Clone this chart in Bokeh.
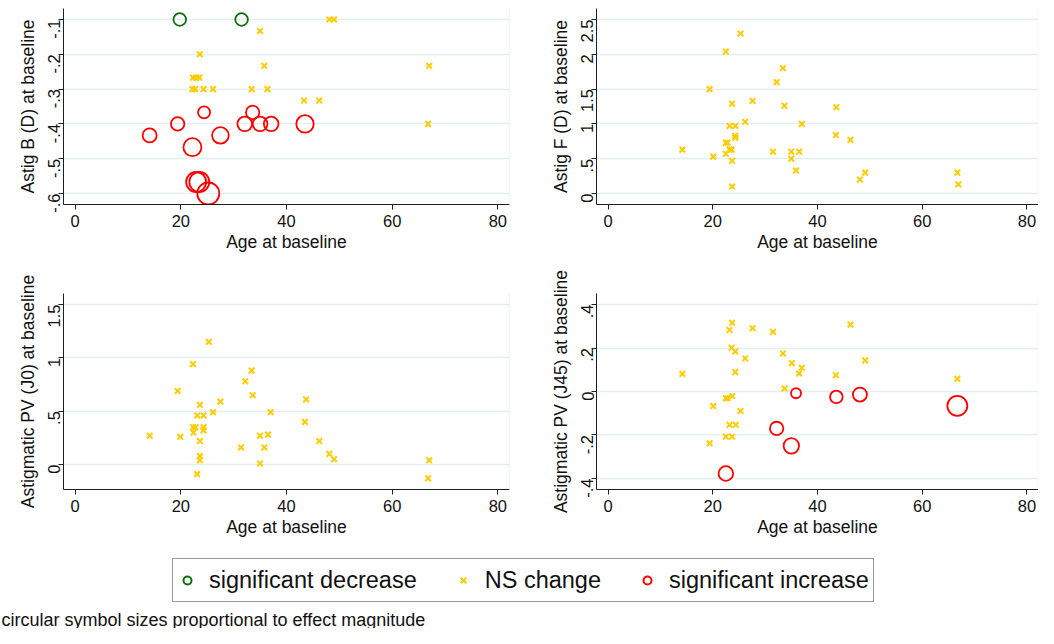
from bokeh.plotting import figure
from bokeh.models import (Range1d, FixedTicker, CustomJSTickFormatter, Span, Legend,
                          LegendItem, ColumnDataSource, Label)
from bokeh.layouts import column, row
from bokeh.embed import file_html
from bokeh.resources import INLINE

FONT = "Liberation Sans"
GOLD = "#ffcc00"
GREEN = "#0b6e0b"
RED = "#ff0000"
GRID = "#e4edf1"
AXIS = "#1e1e1e"

x_ticks = [0, 20, 40, 60, 80]
x_label = "Age at baseline"

# ---- Panel A: Astig B (D) at baseline ----
a_ylabel = "Astig B (D) at baseline"
a_yticks = [-0.6, -0.5, -0.4, -0.3, -0.2, -0.1]
a_age_dec = [19.8, 31.5]
a_val_dec = [-0.1, -0.1]
a_mag_dec = [0.126, 0.126]
a_age_ns = [48.1, 49.0, 35.0, 23.6, 35.8, 67.0, 22.3, 22.9, 23.5, 22.2, 22.7, 24.3,
            26.1, 33.4, 36.4, 43.3, 46.2, 66.8]
a_val_ns = [-0.1, -0.1, -0.133, -0.2, -0.233, -0.233, -0.267, -0.267, -0.267, -0.3,
            -0.3, -0.3, -0.3, -0.3, -0.3, -0.333, -0.333, -0.4]
a_age_inc = [14.1, 19.4, 24.4, 22.2, 27.5, 32.1, 33.6, 35.0, 37.1, 43.5, 22.9, 23.5, 25.2]
a_val_inc = [-0.433, -0.4, -0.367, -0.467, -0.433, -0.4, -0.367, -0.4, -0.4, -0.4,
             -0.567, -0.567, -0.6]
a_mag_inc = [0.14, 0.134, 0.12, 0.18, 0.166, 0.146, 0.134, 0.146, 0.146, 0.174,
             0.20, 0.20, 0.22]

# ---- Panel B: Astig F (D) at baseline ----
b_ylabel = "Astig F (D) at baseline"
b_yticks = [0, 0.5, 1, 1.5, 2, 2.5]
b_age_ns = [14.2, 19.4, 20.1, 22.5, 22.5, 22.8, 22.5, 23.2, 23.2, 23.6, 23.7, 23.7,
            23.7, 24.3, 24.3, 24.3, 25.3, 26.2, 27.6, 31.5, 32.2, 33.4, 33.7, 35.0,
            35.0, 35.9, 36.5, 37.0, 43.5, 43.6, 46.3, 48.1, 49.1, 66.7, 66.9]
b_val_ns = [0.63, 1.50, 0.53, 2.04, 0.73, 0.73, 0.57, 0.97, 0.63, 0.63, 1.29, 0.47,
            0.10, 0.97, 0.83, 0.80, 2.30, 1.03, 1.33, 0.60, 1.60, 1.80, 1.26, 0.60,
            0.50, 0.33, 0.60, 1.00, 0.84, 1.24, 0.77, 0.20, 0.30, 0.30, 0.13]

# ---- Panel C: Astigmatic PV (J0) at baseline ----
c_ylabel = "Astigmatic PV (J0) at baseline"
c_yticks = [0, 0.5, 1, 1.5]
c_age_ns = [14.1, 19.4, 19.9, 22.3, 22.3, 22.8, 22.4, 23.1, 23.1, 23.6, 23.6, 23.6,
            23.6, 24.3, 24.3, 24.3, 25.3, 26.1, 27.5, 31.4, 32.2, 33.4, 33.6, 35.0,
            35.0, 35.8, 36.5, 37.0, 43.5, 43.7, 46.2, 48.1, 49.0, 67.0, 66.8]
c_val_ns = [0.27, 0.69, 0.26, 0.94, 0.35, 0.35, 0.30, 0.46, -0.09, 0.56, 0.22, 0.08,
            0.04, 0.46, 0.35, 0.32, 1.15, 0.49, 0.59, 0.16, 0.78, 0.88, 0.65, 0.27,
            0.01, 0.16, 0.28, 0.49, 0.40, 0.61, 0.22, 0.10, 0.05, 0.04, -0.13]

# ---- Panel D: Astigmatic PV (J45) at baseline ----
d_ylabel = "Astigmatic PV (J45) at baseline"
d_yticks = [-0.4, -0.2, 0, 0.2, 0.4]
d_age_ns = [14.2, 19.4, 20.1, 22.5, 22.8, 22.5, 23.7, 23.2, 23.7, 23.6, 23.7, 23.2,
            24.4, 24.3, 24.3, 25.3, 26.2, 27.6, 31.5, 33.4, 33.7, 35.1, 36.5, 37.0,
            43.5, 46.3, 49.1, 66.7]
d_val_ns = [0.081, -0.238, -0.067, -0.031, -0.031, -0.208, -0.208, 0.283, 0.316,
            0.201, -0.021, -0.153, -0.153, 0.184, 0.089, -0.090, 0.152, 0.291, 0.274,
            0.175, 0.014, 0.130, 0.083, 0.109, 0.075, 0.307, 0.143, 0.058]
d_age_inc = [35.9, 43.6, 48.1, 66.7, 32.2, 35.0, 22.5]
d_val_inc = [-0.008, -0.025, -0.014, -0.066, -0.170, -0.250, -0.377]
d_mag_inc = [0.10, 0.126, 0.14, 0.20, 0.134, 0.154, 0.146]

legend_labels = ["significant decrease", "NS change", "significant increase"]
footnote = "circular symbol sizes proportional to effect magnitude"

SIZE_SCALE = 100.0  # marker diameter (px) per unit of effect magnitude

fmt = CustomJSTickFormatter(code="""
let s = (Math.round(tick*1000)/1000).toString();
if (s.startsWith('0.')) { s = s.slice(1); }
else if (s.startsWith('-0.')) { s = '-' + s.slice(2); }
return s;
""")


def make_panel(ylabel, yticks, yr, width, height, mb_left, mb_right, mb_top, mb_bottom,
               ns, dec=None, inc=None):
    p = figure(width=width, height=height, title=None, output_backend="svg",
               toolbar_location=None, x_range=Range1d(-2.2, 82.2), y_range=Range1d(*yr),
               min_border_left=mb_left, min_border_right=mb_right,
               min_border_top=mb_top, min_border_bottom=mb_bottom)
    p.outline_line_color = None
    p.background_fill_color = "white"
    p.border_fill_color = "white"
    p.xgrid.visible = False
    p.ygrid.ticker = FixedTicker(ticks=yticks)
    p.ygrid.grid_line_color = GRID
    p.ygrid.grid_line_width = 1.5
    p.xaxis.ticker = FixedTicker(ticks=x_ticks)
    p.yaxis.ticker = FixedTicker(ticks=yticks)
    p.yaxis.formatter = fmt
    p.yaxis.major_label_orientation = 1.5707963
    for ax in (p.xaxis[0], p.yaxis[0]):
        ax.axis_line_color = AXIS
        ax.axis_line_width = 1
        ax.major_tick_line_color = AXIS
        ax.major_tick_out = 5
        ax.major_tick_in = 0
        ax.minor_tick_line_color = None
        ax.major_label_text_font = FONT
        ax.major_label_text_font_size = "16.5px"
        ax.major_label_text_color = "#111111"
        ax.axis_label_text_font = FONT
        ax.axis_label_text_font_size = "17.5px"
        ax.axis_label_text_font_style = "normal"
        ax.axis_label_text_color = "#111111"
    p.xaxis.axis_label = x_label
    p.yaxis.axis_label = ylabel
    p.xaxis.major_label_standoff = 5
    p.xaxis.axis_label_standoff = 2
    p.yaxis.major_label_standoff = 4
    p.yaxis.axis_label_standoff = 2
    p.add_layout(Span(location=82.2, dimension="height", line_color=GRID, line_width=1.5))

    p.scatter(x=ns[0], y=ns[1], marker="x", size=8, line_color=GOLD, line_width=2)
    if dec is not None:
        src = ColumnDataSource(dict(x=dec[0], y=dec[1],
                                    s=[m * SIZE_SCALE for m in dec[2]]))
        p.scatter(x="x", y="y", size="s", source=src, marker="circle",
                  fill_color=None, line_color=GREEN, line_width=1.8)
    if inc is not None:
        src = ColumnDataSource(dict(x=inc[0], y=inc[1],
                                    s=[m * SIZE_SCALE for m in inc[2]]))
        p.scatter(x="x", y="y", size="s", source=src, marker="circle",
                  fill_color=None, line_color=RED, line_width=1.8)
    return p


# layout: left column 541 px wide, right column 497 px; rows 266 / 290 / 72 px
pA = make_panel(a_ylabel, a_yticks, (-0.6316, -0.0684), 541, 266, 63, 32, 8, 62,
                (a_age_ns, a_val_ns), dec=(a_age_dec, a_val_dec, a_mag_dec),
                inc=(a_age_inc, a_val_inc, a_mag_inc))
pB = make_panel(b_ylabel, b_yticks, (-0.158, 2.658), 497, 266, 55, 0, 8, 62,
                (b_age_ns, b_val_ns))
pC = make_panel(c_ylabel, c_yticks, (-0.234, 1.603), 541, 290, 63, 32, 27, 67,
                (c_age_ns, c_val_ns))
pD = make_panel(d_ylabel, d_yticks, (-0.4506, 0.4506), 497, 290, 55, 0, 27, 67,
                (d_age_ns, d_val_ns), inc=(d_age_inc, d_val_inc, d_mag_inc))

# ---- legend + footnote strip ----
# legend swatch renderers reuse panel A's data but lie outside this strip's ranges
pL = figure(width=1038, height=72, title=None, output_backend="svg", toolbar_location=None,
            x_range=Range1d(0, 1), y_range=Range1d(0, 1), x_axis_type=None,
            y_axis_type=None, min_border=0)
pL.outline_line_color = None
pL.xgrid.visible = False
pL.ygrid.visible = False
r_dec = pL.scatter(x=a_age_dec, y=a_val_dec, marker="circle",
                   fill_color=None, line_color=GREEN, line_width=2)
r_ns = pL.scatter(x=a_age_ns, y=a_val_ns, marker="x",
                  line_color=GOLD, line_width=2)
r_inc = pL.scatter(x=a_age_inc, y=a_val_inc, marker="circle",
                   fill_color=None, line_color=RED, line_width=2)
leg = Legend(items=[LegendItem(label=legend_labels[0], renderers=[r_dec]),
                    LegendItem(label=legend_labels[1], renderers=[r_ns]),
                    LegendItem(label=legend_labels[2], renderers=[r_inc])],
             orientation="horizontal", location=(172, 26),
             glyph_width=20, glyph_height=20, label_height=34, label_standoff=12,
             spacing=36, padding=4, margin=0,
             label_text_font=FONT, label_text_font_size="23.5px",
             label_text_color="#111111",
             border_line_color="#333333", border_line_width=1.5,
             background_fill_color="white", background_fill_alpha=1.0)
pL.add_layout(leg, "center")
pL.add_layout(Label(x=1, y=9, x_units="screen", y_units="screen", text=footnote,
                    text_font=FONT, text_font_size="18px", text_color="#111111",
                    text_baseline="alphabetic"))

layout = column(row(pA, pB), row(pC, pD), pL)
open("out.html", "w").write(file_html(layout, INLINE))
